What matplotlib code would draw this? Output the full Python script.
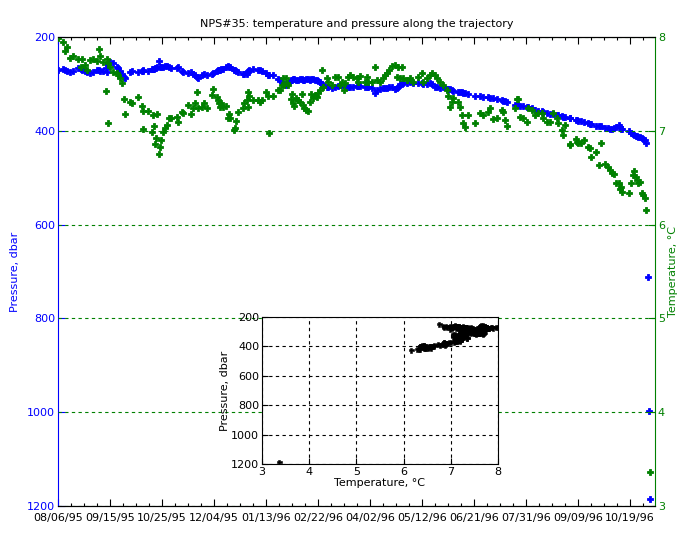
import matplotlib
matplotlib.use('Agg')
import matplotlib.pyplot as plt
import matplotlib.dates as mdates
from matplotlib.ticker import FixedLocator
import numpy as np
import datetime as dt

# ---------------- data ----------------
start_date = dt.datetime(1995, 8, 6)

days = [0.0, 3.8, 5.4, 6.9, 9.2, 11.5, 15.4, 17.7, 18.5, 20.8, 22.3, 24.6, 26.9, 30.0, 31.5, 32.3, 34.6, 36.9, 37.7, 38.5,
        38.8, 40.0, 42.3, 45.4, 46.2, 47.7, 49.2, 50.8, 51.5, 55.4, 56.9, 61.5, 64.6, 65.0, 65.4, 69.2, 72.3, 73.1, 73.5, 74.6,
        75.4, 76.2, 77.7, 78.5, 79.2, 80.8, 82.3, 83.8, 85.4, 86.9, 91.5, 92.3, 95.4, 96.2, 100.0, 102.3, 103.8, 105.4, 106.9, 107.7,
        110.8, 112.3, 114.6, 118.5, 119.2, 122.3, 123.1, 123.5, 124.6, 125.4, 126.9, 129.2, 130.8, 131.5, 132.3, 135.4, 136.2, 136.9, 138.5, 142.3,
        143.1, 145.4, 146.2, 146.5, 146.9, 150.0, 153.8, 155.4, 156.9, 160.0, 161.5, 162.3, 165.4, 169.2, 170.8, 172.3, 173.1, 173.8, 175.4, 176.2,
        176.9, 179.2, 180.0, 180.8, 181.5, 183.1, 184.6, 186.2, 187.7, 188.5, 189.2, 190.8, 192.3, 193.8, 194.6, 196.2, 197.7, 199.2, 200.0, 201.5,
        203.1, 203.8, 206.9, 207.7, 210.8, 213.1, 215.4, 216.9, 218.5, 220.0, 220.8, 223.1, 224.6, 226.9, 230.0, 230.8, 232.3, 236.2, 237.7, 238.5,
        241.5, 243.8, 245.4, 247.7, 250.0, 251.5, 253.1, 254.6, 256.9, 259.2, 260.8, 261.5, 263.1, 264.6, 265.4, 268.5, 270.8, 273.1, 276.9, 280.0,
        280.8, 283.8, 286.2, 287.7, 290.0, 291.5, 293.8, 296.2, 299.2, 300.0, 301.5, 303.1, 303.8, 307.7, 309.2, 310.8, 311.5, 313.1, 315.4, 320.8,
        324.6, 326.9, 330.8, 332.3, 334.6, 337.7, 341.5, 342.3, 343.8, 345.4, 351.5, 353.1, 353.8, 355.4, 357.7, 360.8, 361.5, 364.6, 366.9, 369.2,
        372.3, 373.1, 376.2, 378.5, 380.8, 383.8, 384.6, 387.7, 388.5, 390.0, 393.8, 394.2, 398.5, 399.2, 400.0, 402.3, 404.6, 407.7, 409.2, 409.6,
        413.8, 416.2, 417.7, 420.8, 423.1, 424.6, 426.2, 427.7, 429.2, 431.5, 432.3, 433.1, 433.8, 439.2, 440.8, 442.3, 443.1, 444.6, 445.4, 446.2,
        447.7, 449.2, 450.0, 451.5, 452.3, 453.8, 454.6, 455.4]

temperature = [7.99, 7.95, 7.85, 7.89, 7.78, 7.80, 7.77, 7.68, 7.77, 7.70, 7.65, 7.75, 7.77, 7.74, 7.87, 7.80, 7.73, 7.42, 7.77, 7.72,
               7.08, 7.68, 7.63, 7.62, 7.59, 7.56, 7.51, 7.34, 7.18, 7.31, 7.30, 7.36, 7.26, 7.02, 7.21, 7.21, 6.99, 7.17, 7.05, 6.86,
               6.92, 7.18, 6.75, 6.83, 6.90, 6.99, 7.03, 7.06, 7.14, 7.14, 7.15, 7.09, 7.20, 7.19, 7.28, 7.18, 7.24, 7.30, 7.41, 7.24,
               7.25, 7.30, 7.24, 7.38, 7.45, 7.36, 7.33, 7.30, 7.25, 7.30, 7.25, 7.26, 7.14, 7.18, 7.14, 7.01, 7.03, 7.10, 7.20, 7.24,
               7.30, 7.33, 7.25, 7.41, 7.37, 7.33, 7.33, 7.31, 7.33, 7.41, 7.37, 6.98, 7.37, 7.43, 7.43, 7.49, 7.56, 7.49, 7.56, 7.51,
               7.49, 7.34, 7.39, 7.30, 7.26, 7.35, 7.33, 7.31, 7.39, 7.28, 7.24, 7.22, 7.21, 7.31, 7.39, 7.35, 7.38, 7.36, 7.40, 7.43,
               7.65, 7.47, 7.56, 7.52, 7.49, 7.57, 7.57, 7.49, 7.52, 7.43, 7.51, 7.57, 7.59, 7.57, 7.56, 7.52, 7.58, 7.52, 7.57, 7.52,
               7.52, 7.68, 7.54, 7.52, 7.56, 7.59, 7.62, 7.65, 7.69, 7.70, 7.57, 7.68, 7.56, 7.68, 7.56, 7.54, 7.56, 7.52, 7.57, 7.62,
               7.52, 7.56, 7.59, 7.62, 7.59, 7.56, 7.52, 7.49, 7.43, 7.37, 7.25, 7.31, 7.35, 7.31, 7.25, 7.17, 7.08, 7.04, 7.17, 7.08,
               7.19, 7.17, 7.20, 7.24, 7.13, 7.14, 7.22, 7.20, 7.12, 7.05, 7.24, 7.34, 7.34, 7.15, 7.14, 7.09, 7.24, 7.22, 7.17, 7.19,
               7.19, 7.14, 7.09, 7.09, 7.19, 7.14, 7.08, 7.01, 6.96, 7.06, 6.85, 6.86, 6.91, 6.88, 6.87, 6.87, 6.90, 6.83, 6.82, 6.72,
               6.77, 6.64, 6.87, 6.65, 6.61, 6.58, 6.55, 6.54, 6.44, 6.44, 6.38, 6.40, 6.35, 6.34, 6.44, 6.53, 6.57, 6.51, 6.48, 6.44,
               6.45, 6.34, 6.32, 6.28, 6.16, np.nan, np.nan, 3.36]

pressure = [270, 268, 270, 272, 275, 272, 266, 268, 270, 272, 275, 277, 275, 270, 270, 272, 272, 266, 275, 258,
            255, 253, 255, 264, 266, 272, 279, 285, 287, 275, 272, 275, 272, 272, 270, 272, 268, 268, 268, 266,
            266, 264, 251, 264, 264, 264, 262, 262, 264, 266, 266, 264, 272, 275, 277, 275, 279, 281, 285, 287,
            281, 279, 281, 279, 277, 272, 270, 270, 270, 268, 268, 264, 262, 264, 264, 270, 270, 272, 275, 279,
            279, 279, 275, 272, 270, 268, 270, 270, 272, 277, 281, 281, 281, 290, 292, 296, 300, 300, 302, 300,
            298, 292, 292, 290, 290, 292, 292, 290, 290, 292, 292, 290, 290, 292, 290, 290, 292, 292, 294, 296,
            300, 302, 307, 307, 309, 307, 304, 302, 302, 302, 304, 307, 307, 307, 304, 304, 304, 307, 307, 307,
            309, 319, 313, 311, 309, 309, 309, 307, 307, 311, 309, 307, 300, 300, 298, 298, 296, 298, 298, 298,
            300, 300, 298, 300, 307, 307, 309, 307, 311, 311, 311, 313, 315, 317, 317, 317, 319, 319, 322, 326,
            326, 328, 328, 330, 330, 332, 334, 336, 336, 339, 345, 345, 345, 347, 347, 349, 349, 351, 356, 358,
            358, 360, 362, 364, 364, 366, 366, 368, 371, 371, 373, 373, 377, 377, 379, 379, 381, 383, 385, 385,
            390, 390, 390, 394, 394, 396, 396, 394, 392, 388, 392, 396, 396, 400, 405, 407, 409, 411, 411, 413,
            413, 415, 417, 420, 426, 712, 997, 1185]

date_ticks_days = [0, 40, 80, 120, 160, 200, 240, 280, 320, 360, 400, 440]

# ---------------- figure ----------------
plt.rcParams['font.family'] = ['DejaVu Sans']
fig = plt.figure(figsize=(6.93, 5.40), dpi=100)
fig.patch.set_facecolor('white')

blue = (0, 0, 1)
green = (0, 0.5, 0)

x = mdates.date2num([start_date + dt.timedelta(days=d) for d in days])
x0 = mdates.date2num(start_date)

ax1 = fig.add_axes([58/693, 1 - 506/540, (655-58)/693, (506-37)/540])
ax2 = ax1.twinx()

ax1.plot(x, pressure, linestyle='none', marker='P', markersize=4.6, color=blue,
         markeredgewidth=0.6, markeredgecolor=blue)
ax2.plot(x, temperature, linestyle='none', marker='P', markersize=4.6, color=green,
         markeredgewidth=0.6, markeredgecolor=green)

ax1.set_xlim(x0, x0 + 459.2)
ax1.set_ylim(1200, 200)
ax2.set_ylim(3, 8)

ax1.set_yticks([200, 400, 600, 800, 1000, 1200])
ax2.set_yticks([3, 4, 5, 6, 7, 8])

ax1.xaxis.set_major_locator(FixedLocator([x0 + d for d in date_ticks_days]))
ax1.xaxis.set_minor_locator(FixedLocator([x0 + d for d in range(0, 460, 10)]))
ax1.xaxis.set_major_formatter(mdates.DateFormatter('%m/%d/%y'))

fs = 8
ax1.tick_params(axis='x', which='major', direction='in', top=True, bottom=True, length=5,
                labelsize=fs, pad=5, width=0.8)
ax1.tick_params(axis='x', which='minor', direction='in', top=True, bottom=True, length=2.5, width=0.8)
ax1.tick_params(axis='y', direction='in', left=True, right=False, colors=blue, labelsize=fs, length=5, pad=2)
ax2.tick_params(axis='y', direction='in', right=True, left=False, colors=green, labelsize=fs, length=5, pad=2)

for sp in ['top', 'bottom']:
    ax1.spines[sp].set_color('black')
    ax2.spines[sp].set_color('black')
ax1.spines['left'].set_color(blue)
ax2.spines['left'].set_visible(False)
ax2.spines['right'].set_color(green)
ax1.spines['right'].set_visible(False)

ax2.yaxis.grid(True, color=green, linestyle=(0, (3, 3)), linewidth=0.8)

ax1.set_ylabel('Pressure, dbar', color=blue, fontsize=fs, labelpad=5)
ax2.set_ylabel('Temperature, \u00b0C', color=green, fontsize=fs, labelpad=2)
ax1.set_title('NPS#35: temperature and pressure along the trajectory', fontsize=fs, pad=7)

# ---------------- inset ----------------
ax3 = fig.add_axes([262/693, 1 - 464/540, (498-262)/693, (464-317)/540])
ax3.set_zorder(5)
ax3.set_facecolor('white')
ax3.plot(temperature, pressure, linestyle='none', marker='P', markersize=3.6, color='black',
         markeredgewidth=0.4, markeredgecolor='black')
ax3.set_xlim(3, 8)
ax3.set_ylim(1200, 200)
ax3.set_xticks([3, 4, 5, 6, 7, 8])
ax3.set_yticks([200, 400, 600, 800, 1000, 1200])
ax3.grid(True, color='black', linestyle=(0, (3, 3)), linewidth=0.8)
ax3.tick_params(direction='in', labelsize=fs, length=4, pad=2)
ax3.set_xlabel('Temperature, \u00b0C', fontsize=fs, labelpad=1)
ax3.set_ylabel('Pressure, dbar', fontsize=fs, labelpad=1)

fig.savefig('out.png', dpi=100, facecolor='white')
